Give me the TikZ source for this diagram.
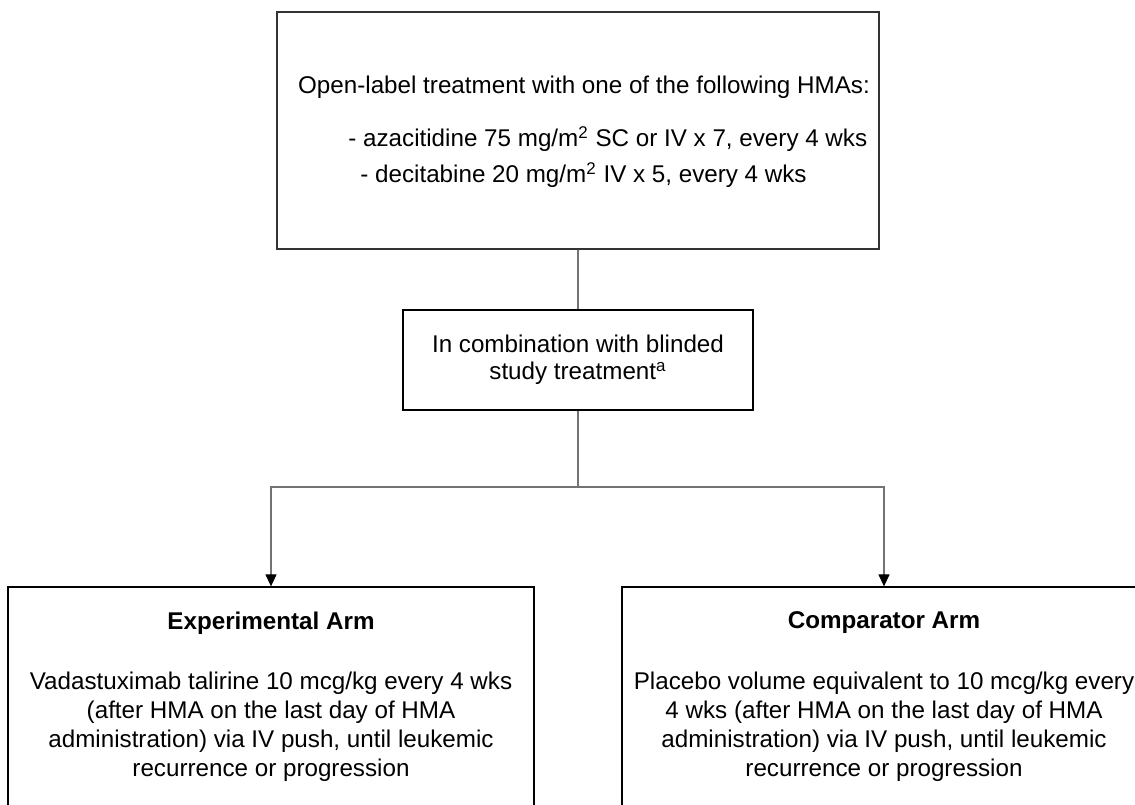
\documentclass[tikz,border=0pt]{standalone}
\usepackage{fontspec}
\setmainfont{Liberation Sans}
\usetikzlibrary{arrows.meta}
\tikzset{
    box/.style={draw=black, line width=0.65pt, inner sep=0pt},
    txt/.style={inner sep=0pt},
    link/.style={draw=black!55, line width=0.6pt},
    arrowlink/.style={link, -{Triangle[length=6pt, width=5.5pt, color=black]}},
}
\begin{document}
\begin{tikzpicture}[x=0.5pt, y=-0.5pt, font=\fontsize{12.1}{14.5}\selectfont]
    % Page
    \useasboundingbox (0,0) rectangle (1135,804);
    \clip (0,0) rectangle (1135,804);

    % Top box: HMA treatment
    \node[box, draw=black!80, minimum width=301pt, minimum height=118.5pt] (hma) at (578,130.5) {};
    \node[txt] (hmahead) at (584,87) {Open-label treatment with one of the following HMAs:};
    \node[txt, anchor=west] (aza) at (348,139) {- azacitidine 75 mg/m\textsuperscript{2} SC or IV x 7, every 4 wks};
    \node[txt, anchor=west] (deci) at (360,175) {- decitabine 20 mg/m\textsuperscript{2} IV x 5, every 4 wks};

    % Middle box
    \node[box, minimum width=175pt, minimum height=50pt, align=center] (combo) at (578,360)
        {In combination with blinded\\[-1pt]study treatment\textsuperscript{a}};

    % Arms
    \node[box, minimum width=263pt, minimum height=111.5pt] (exp) at (271,698.5) {};
    \node[txt, font=\fontsize{12.1}{14.5}\selectfont\bfseries] (exphead) at (271,623) {Experimental Arm};
    \node[txt, align=center] (expbody) at (271,727) {Vadastuximab talirine 10 mcg/kg every 4 wks\\
        (after HMA on the last day of HMA\\administration) via IV push, until leukemic\\
        recurrence or progression};

    \node[box, minimum width=262pt, minimum height=111.5pt] (comp) at (884,698.5) {};
    \node[txt, font=\fontsize{12.1}{14.5}\selectfont\bfseries] (comphead) at (884,623) {Comparator Arm};
    \node[txt, align=center] (compbody) at (884,727) {Placebo volume equivalent to 10 mcg/kg every\\
        4 wks (after HMA on the last day of HMA\\administration) via IV push, until leukemic\\
        recurrence or progression};

    % Connectors
    \coordinate (split) at (578,487);
    \draw[link] (hma.south) -- (combo.north);
    \draw[link] (combo.south) -- (split);
    \draw[arrowlink] (split) -| (exp.north);
    \draw[arrowlink] (split) -| (comp.north);
\end{tikzpicture}
\end{document}
